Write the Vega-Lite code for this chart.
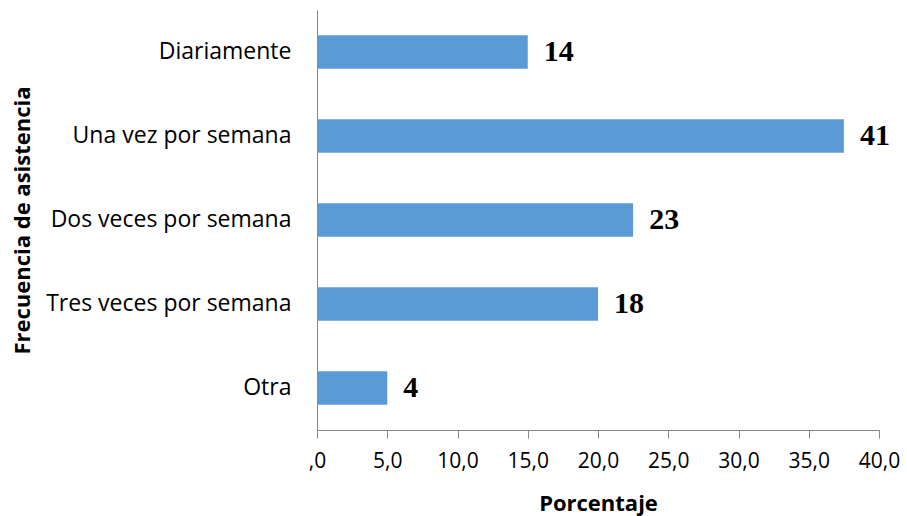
{
  "$schema": "https://vega.github.io/schema/vega-lite/v6.json",
  "autosize": "none",
  "padding": {"left": 317, "top": 10, "right": 28, "bottom": 86},
  "width": 562,
  "height": 420,
  "background": "white",
  "data": {
    "values": [
      {"frecuencia": "Diariamente", "valor": 15.0, "etiqueta": "14"},
      {"frecuencia": "Una vez por semana", "valor": 37.5, "etiqueta": "41"},
      {"frecuencia": "Dos veces por semana", "valor": 22.5, "etiqueta": "23"},
      {"frecuencia": "Tres veces por semana", "valor": 20.0, "etiqueta": "18"},
      {"frecuencia": "Otra", "valor": 5.0, "etiqueta": "4"}
    ]
  },
  "encoding": {
    "y": {
      "field": "frecuencia",
      "type": "nominal",
      "sort": null,
      "scale": {"paddingInner": 0.6, "paddingOuter": 0.3},
      "axis": {
        "title": "Frecuencia de asistencia",
        "titleFont": "Open Sans",
        "titleFontSize": 22,
        "titleFontWeight": "bold",
        "titleColor": "#000000",
        "titleX": -295,
        "titleY": 210,
        "titleBaseline": "middle",
        "titleAlign": "center",
        "titleAngle": 270,
        "labelFont": "Open Sans",
        "labelFontSize": 23,
        "labelColor": "#000000",
        "labelPadding": 26,
        "labelLimit": 400,
        "ticks": false,
        "domainColor": "#868686",
        "domainWidth": 1
      }
    },
    "x": {
      "field": "valor",
      "type": "quantitative",
      "scale": {"domain": [0, 40], "nice": false},
      "axis": {
        "title": "Porcentaje",
        "values": [0, 5, 10, 15, 20, 25, 30, 35, 40],
        "labelExpr": "datum.value == 0 ? ',0' : replace(format(datum.value, '.1f'), '.', ',')",
        "titleFont": "Open Sans",
        "titleFontSize": 22,
        "titleFontWeight": "bold",
        "titleColor": "#000000",
        "titleY": 73,
        "titleBaseline": "middle",
        "labelFont": "Open Sans",
        "labelFontSize": 21,
        "labelColor": "#000000",
        "labelPadding": 12,
        "tickSize": 8,
        "tickColor": "#868686",
        "domainColor": "#868686",
        "grid": false,
        "labelFlush": false
      }
    }
  },
  "layer": [
    {"mark": {"type": "bar", "color": "#5B9BD5"}},
    {
      "mark": {
        "type": "text",
        "align": "left",
        "baseline": "middle",
        "dx": 16,
        "font": "Liberation Serif",
        "fontSize": 30,
        "fontWeight": "bold",
        "color": "#000000"
      },
      "encoding": {"text": {"field": "etiqueta"}}
    }
  ],
  "config": {"view": {"stroke": null}}
}
